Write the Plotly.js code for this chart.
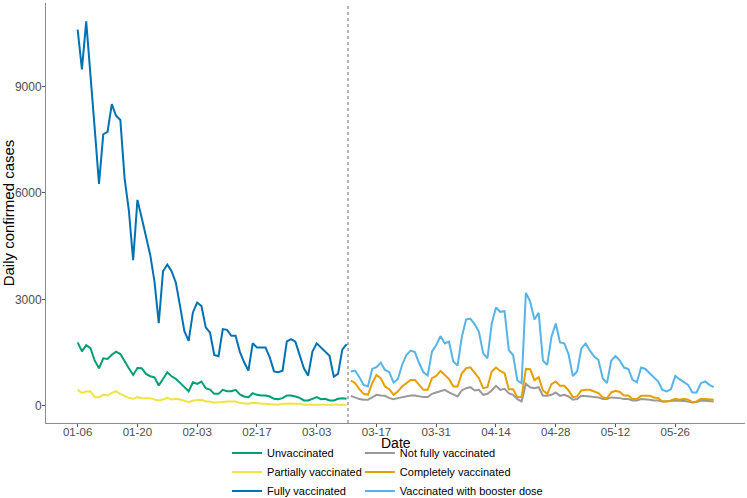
<!DOCTYPE html>
<html>
<head>
<meta charset="utf-8">
<script src="https://cdn.plot.ly/plotly-3.0.1.min.js"></script>
<style>
  html, body { margin: 0; padding: 0; background: #fff; }
  #chart { width: 747px; height: 498px; }
</style>
</head>
<body>
<div id="chart"></div>
<script>
// first period: 2022-01-06 .. 2022-03-10, second period: 2022-03-11 .. 2022-06-04
const firstStart = '2022-01-06';
const secondStart = '2022-03-11';
const splitDate = '2022-03-10 08:00';

const unvaccinated = [
	1786, 1533, 1710, 1626, 1270, 1057, 1337, 1318, 1438, 1524,
	1458, 1243, 1057, 869, 1066, 1057, 897, 832, 804, 570,
	776, 944, 832, 757, 645, 523, 411, 664, 617, 682,
	495, 458, 336, 336, 448, 411, 411, 448, 318, 261,
	243, 355, 308, 290, 290, 261, 196, 187, 215, 290,
	290, 261, 224, 150, 150, 196, 243, 187, 196, 150,
	150, 196, 215, 196];

const partially = [
	448, 364, 401, 411, 243, 243, 308, 290, 364, 411,
	336, 271, 224, 196, 243, 215, 215, 215, 178, 150,
	178, 224, 178, 196, 178, 131, 103, 150, 168, 168,
	122, 122, 84, 103, 122, 122, 122, 122, 75, 75,
	56, 84, 75, 75, 75, 56, 37, 28, 56, 65,
	65, 56, 56, 28, 28, 47, 47, 47, 37, 37,
	28, 28, 28, 28];

const fully = [
	10600, 9480, 10830, 9400, 7800, 6250, 7650, 7720, 8500, 8170,
	8050, 6400, 5500, 4100, 5800, 5300, 4800, 4250, 3500, 2330,
	3790, 3980, 3790, 3470, 2800, 2100, 1830, 2630, 2910, 2810,
	2210, 2065, 1430, 1395, 2160, 2140, 1970, 1970, 1520, 1225,
	990, 1760, 1645, 1645, 1645, 1365, 970, 945, 990, 1815,
	1880, 1805, 1460, 1055, 850, 1525, 1760, 1645, 1505, 1410,
	820, 900, 1580, 1740];

const notFully = [
	281, 235, 188, 170, 170, 235, 309, 290, 281, 216,
	188, 216, 244, 263, 290, 290, 263, 244, 244, 337,
	376, 404, 449, 376, 309, 263, 432, 496, 524, 432,
	449, 309, 337, 432, 561, 449, 477, 356, 309, 188,
	123, 617, 520, 496, 524, 281, 281, 309, 376, 281,
	309, 263, 170, 188, 281, 281, 263, 244, 235, 188,
	188, 235, 235, 216, 188, 188, 151, 151, 188, 188,
	170, 151, 151, 123, 123, 132, 151, 132, 132, 123,
	94, 103, 142, 142, 132, 123];

const completely = [
	712, 637, 468, 337, 309, 637, 870, 777, 543, 468,
	309, 404, 543, 637, 729, 729, 589, 449, 449, 777,
	841, 982, 870, 749, 543, 543, 917, 1057, 1085, 936,
	777, 496, 524, 964, 1077, 982, 917, 468, 468, 244,
	244, 1038, 1029, 720, 805, 432, 337, 608, 684, 561,
	561, 432, 244, 264, 432, 449, 449, 404, 356, 235,
	216, 376, 421, 390, 292, 292, 188, 188, 281, 281,
	281, 235, 216, 123, 123, 151, 197, 170, 197, 170,
	103, 123, 197, 188, 170, 170];

const booster = [
	964, 992, 805, 589, 543, 1038, 1085, 1217, 1010, 945,
	656, 749, 1150, 1430, 1553, 1514, 1197, 945, 852, 1525,
	1710, 1963, 1758, 1806, 1245, 1133, 1946, 2431, 2451, 2300,
	2086, 1478, 1338, 2319, 2768, 2647, 2664, 1570, 1430, 712,
	637, 3180, 2940, 2431, 2619, 1273, 1150, 1946, 2319, 1786,
	1758, 1450, 841, 964, 1618, 1758, 1553, 1385, 1290, 777,
	637, 1273, 1402, 1273, 1077, 1038, 729, 665, 1077, 1038,
	917, 805, 684, 449, 404, 468, 841, 749, 665, 589,
	376, 376, 637, 684, 589, 524];

const tickDates = ['2022-01-06', '2022-01-20', '2022-02-03', '2022-02-17', '2022-03-03',
	'2022-03-17', '2022-03-31', '2022-04-14', '2022-04-28', '2022-05-12', '2022-05-26'];
const tickLabels = ['01-06', '01-20', '02-03', '02-17', '03-03',
	'03-17', '03-31', '04-14', '04-28', '05-12', '05-26'];
const yTicks = [0, 3000, 6000, 9000];
const yLabels = ['0', '3000', '6000', '9000'];

// consecutive daily dates
function days(start, n) {
	let out = [];
	let t0 = Date.parse(start + 'T00:00:00Z');
	for (let i = 0; i < n; i++) {
		out.push(new Date(t0 + i * 864e5).toISOString().slice(0, 10));
	}
	return out;
}

const d1 = days(firstStart, fully.length);
const d2 = days(secondStart, booster.length);

function line(x, y, name, color, legend) {
	return {
		x: x, y: y, name: name, type: 'scatter', mode: 'lines',
		line: {color: color, width: 2},
		legend: legend, hoverinfo: 'skip'
	};
}

let data = [
	line(d1, unvaccinated, 'Unvaccinated', '#009E73', 'legend'),
	line(d1, partially, 'Partially vaccinated', '#F0E442', 'legend'),
	line(d1, fully, 'Fully vaccinated', '#0072B2', 'legend'),
	line(d2, notFully, 'Not fully vaccinated', '#999999', 'legend2'),
	line(d2, completely, 'Completely vaccinated', '#E69F00', 'legend2'),
	line(d2, booster, 'Vaccinated with booster dose', '#56B4E9', 'legend2')
];

let legendStyle = {
	orientation: 'v', xanchor: 'left', yanchor: 'top', y: -0.037,
	font: {size: 11, color: '#000'}, bgcolor: 'rgba(0,0,0,0)',
	tracegroupgap: 0, itemclick: false
};

let layout = {
	width: 747,
	height: 498,
	margin: {l: 46, r: 2, t: 3, b: 75, autoexpand: false},
	paper_bgcolor: '#fff',
	plot_bgcolor: '#fff',
	font: {family: 'Liberation Sans, Arial, sans-serif', color: '#4d4d4d'},
	showlegend: true,
	legend: Object.assign({}, legendStyle, {x: 0.259}),
	legend2: Object.assign({}, legendStyle, {x: 0.449}),
	xaxis: {
		type: 'date',
		range: ['2021-12-29 14:00', '2022-06-11 08:00'],
		tickvals: tickDates,
		ticktext: tickLabels,
		tickfont: {size: 11.5, color: '#4d4d4d'},
		ticks: 'outside', ticklen: 3, tickcolor: '#555',
		ticklabelstandoff: -5,
		showgrid: false, zeroline: false,
		showline: true, linecolor: '#8c8c8c', linewidth: 1,
		automargin: false
	},
	yaxis: {
		range: [-485, 11348],
		tickvals: yTicks,
		ticktext: yLabels,
		tickfont: {size: 12, color: '#4d4d4d'},
		ticks: 'outside', ticklen: 3, tickcolor: '#555',
		ticklabelstandoff: -2,
		showgrid: false, zeroline: false,
		showline: true, linecolor: '#8c8c8c', linewidth: 1,
		title: {text: 'Daily confirmed cases', font: {size: 15, color: '#000'}, standoff: 6},
		automargin: false
	},
	annotations: [{
		text: 'Date', xref: 'paper', yref: 'paper', x: 0.5, y: -0.0476,
		xanchor: 'center', yanchor: 'middle', showarrow: false,
		font: {size: 14, color: '#000'}
	}],
	shapes: [{
		type: 'line', xref: 'x', yref: 'paper',
		x0: splitDate, x1: splitDate, y0: 0, y1: 1,
		line: {color: '#444', width: 0.8, dash: 'dot'}
	}]
};

Plotly.newPlot('chart', data, layout, {staticPlot: true});
</script>
</body>
</html>
